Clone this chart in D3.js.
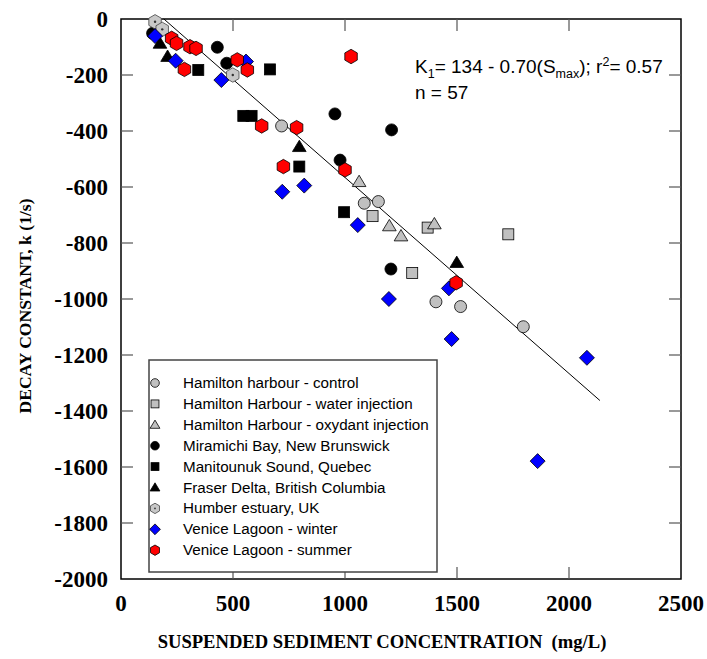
<!DOCTYPE html>
<html><head><meta charset="utf-8">
<script src="https://cdn.jsdelivr.net/npm/d3@7"></script>
<style>body{margin:0;background:#fff}</style>
</head><body>
<svg id="c" width="707" height="659"></svg>
<script>
const seriesNames = ["Hamilton harbour - control","Hamilton Harbour - water injection","Hamilton Harbour - oxydant injection","Miramichi Bay, New Brunswick","Manitounuk Sound, Quebec","Fraser Delta, British Columbia","Humber estuary, UK","Venice Lagoon - winter","Venice Lagoon - summer"];
const hamiltonControl = [[717,-382],[1086,-658],[1149,-652],[1406,-1010],[1516,-1027],[1796,-1099]];
const hamiltonWater = [[1123,-704],[1369,-745],[1729,-769],[1300,-907]];
const hamiltonOxy = [[1063,-581],[1198,-739],[1250,-775],[1399,-732]];
const miramichi = [[141,-51],[430,-101],[472,-158],[955,-339],[978,-504],[1208,-396],[1205,-893]];
const manitounuk = [[345,-182],[546,-346],[583,-346],[665,-180],[796,-527],[996,-690]];
const fraser = [[174,-87],[208,-134],[796,-456],[1499,-870]];
const humber = [[152,-10],[184,-37],[499,-200]];
const veniceWinter = [[152,-61],[244,-149],[448,-218],[558,-152],[720,-617],[818,-595],[1057,-736],[1196,-1000],[1464,-962],[1476,-1143],[1860,-1579],[2080,-1210]];
const veniceSummer = [[226,-69],[248,-87],[308,-99],[335,-105],[283,-180],[519,-146],[564,-182],[628,-382],[784,-388],[725,-527],[1000,-539],[1027,-134],[1496,-942]];
const xTicks = [0,500,1000,1500,2000,2500];
const yTicks = [0,-200,-400,-600,-800,-1000,-1200,-1400,-1600,-1800,-2000];
const fitIntercept = 134, fitSlope = -0.70, fitRange = [191, 2138];

const allSeries = [hamiltonControl,hamiltonWater,hamiltonOxy,miramichi,manitounuk,fraser,humber,veniceWinter,veniceSummer];
const shapes = ["circle","square","triangle","circle","square","triangle","hexdot","diamond","hex"];
const fills = ["#c0c0c0","#c0c0c0","#c0c0c0","#000","#000","#000","#c8c8c8","#0000ff","#ff0000"];

const svg = d3.select("#c");
const L=121,R=681,T=19,B=579;
const x = d3.scaleLinear().domain([0,2500]).range([L,R]);
const y = d3.scaleLinear().domain([-2000,0]).range([B,T]);

function sym(g, shape, cx, cy, s, fill){
  const st = "#000";
  if(shape==="circle"){
    g.append("circle").attr("cx",cx).attr("cy",cy).attr("r",6*s).attr("fill",fill).attr("stroke",st).attr("stroke-width",0.8);
  } else if(shape==="square"){
    const h=5.5*s;
    g.append("rect").attr("x",cx-h).attr("y",cy-h).attr("width",2*h).attr("height",2*h).attr("fill",fill).attr("stroke",st).attr("stroke-width",0.8);
  } else if(shape==="triangle"){
    const h=6.5*s;
    g.append("path").attr("d",`M${cx},${cy-h}L${cx+h*1.05},${cy+h*0.75}L${cx-h*1.05},${cy+h*0.75}Z`).attr("fill",fill).attr("stroke",st).attr("stroke-width",0.8);
  } else if(shape==="diamond"){
    const h=7.5*s;
    g.append("path").attr("d",`M${cx},${cy-h}L${cx+h},${cy}L${cx},${cy+h}L${cx-h},${cy}Z`).attr("fill",fill).attr("stroke",st).attr("stroke-width",0.8);
  } else if(shape==="hex"||shape==="hexdot"){
    const r=7.2*s;
    const pts=d3.range(6).map(i=>{const a=Math.PI/3*i - Math.PI/2;return [cx+r*Math.cos(a),cy+r*Math.sin(a)];});
    g.append("path").attr("d","M"+pts.map(p=>p.join(",")).join("L")+"Z").attr("fill",fill).attr("stroke",shape==="hexdot"?"#444":st).attr("stroke-width",0.8);
    if(shape==="hexdot") g.append("circle").attr("cx",cx).attr("cy",cy).attr("r",1.2*s).attr("fill","#333");
  }
}

// frame
svg.append("rect").attr("x",L).attr("y",T).attr("width",R-L).attr("height",B-T).attr("fill","none").attr("stroke","#000").attr("stroke-width",1.5);

// ticks inward (all four sides)
const tk = 12;
xTicks.slice(1,-1).forEach(v=>{
  svg.append("line").attr("x1",x(v)).attr("x2",x(v)).attr("y1",B).attr("y2",B-tk).attr("stroke","#555").attr("stroke-width",1.2);
  svg.append("line").attr("x1",x(v)).attr("x2",x(v)).attr("y1",T).attr("y2",T+tk).attr("stroke","#555").attr("stroke-width",1.2);
});
yTicks.slice(1,-1).forEach(v=>{
  svg.append("line").attr("x1",L).attr("x2",L+tk).attr("y1",y(v)).attr("y2",y(v)).attr("stroke","#555").attr("stroke-width",1.2);
  svg.append("line").attr("x1",R).attr("x2",R-tk).attr("y1",y(v)).attr("y2",y(v)).attr("stroke","#555").attr("stroke-width",1.2);
});

// tick labels
const tf = "'Liberation Serif','Times New Roman',serif";
svg.selectAll(".yl").data(yTicks).enter().append("text").attr("x",108).attr("y",d=>y(d)+8)
  .attr("text-anchor","end").attr("font-family",tf).attr("font-weight","bold").attr("font-size",23).text(d=>d);
svg.selectAll(".xl").data(xTicks).enter().append("text").attr("x",d=>x(d)).attr("y",611)
  .attr("text-anchor","middle").attr("font-family",tf).attr("font-weight","bold").attr("font-size",23).text(d=>d);

// axis titles
svg.append("text").attr("transform","translate(31,306) rotate(-90)").attr("text-anchor","middle")
  .attr("font-family",tf).attr("font-weight","bold").attr("font-size",17.6).text("DECAY CONSTANT, k (1/s)");
svg.append("text").attr("x",382).attr("y",648).attr("text-anchor","middle").attr("xml:space","preserve")
  .attr("font-family",tf).attr("font-weight","bold").attr("font-size",18.6).text("SUSPENDED SEDIMENT CONCENTRATION  (mg/L)");

// fit line
svg.append("line").attr("x1",x(fitRange[0])).attr("y1",y(fitIntercept+fitSlope*fitRange[0]))
  .attr("x2",x(fitRange[1])).attr("y2",y(fitIntercept+fitSlope*fitRange[1])).attr("stroke","#000").attr("stroke-width",1);

// points
const pg = svg.append("g");
allSeries.forEach((arr,i)=>{
  arr.forEach(d=>sym(pg, shapes[i], x(d[0]), y(d[1]), 1, fills[i]));
});

// annotation
const af = "'Liberation Sans',Arial,sans-serif";
const ann = svg.append("text").attr("x",415).attr("y",73).attr("font-family",af).attr("font-size",19);
ann.append("tspan").text("K");
ann.append("tspan").attr("font-size",12.5).attr("dy",5).text("1");
ann.append("tspan").attr("dy",-5).text("= 134 - 0.70(S");
ann.append("tspan").attr("font-size",12.5).attr("dy",5).text("max");
ann.append("tspan").attr("dy",-5).text("); r");
ann.append("tspan").attr("font-size",12.5).attr("dy",-7).text("2");
ann.append("tspan").attr("dy",7).text("= 0.57");
svg.append("text").attr("x",415).attr("y",99).attr("font-family",af).attr("font-size",19).text("n = 57");

// legend
const lg = svg.append("g");
lg.append("rect").attr("x",149).attr("y",360).attr("width",288).attr("height",212).attr("fill","#fff").attr("stroke","#444").attr("stroke-width",1.5);
seriesNames.forEach((n,i)=>{
  const cy = 383 + i*20.9;
  sym(lg, shapes[i], 155, cy, 0.72, fills[i]);
  lg.append("text").attr("x",183).attr("y",cy+5).attr("font-family",af).attr("font-size",15.2).text(n);
});
</script>
</body></html>
